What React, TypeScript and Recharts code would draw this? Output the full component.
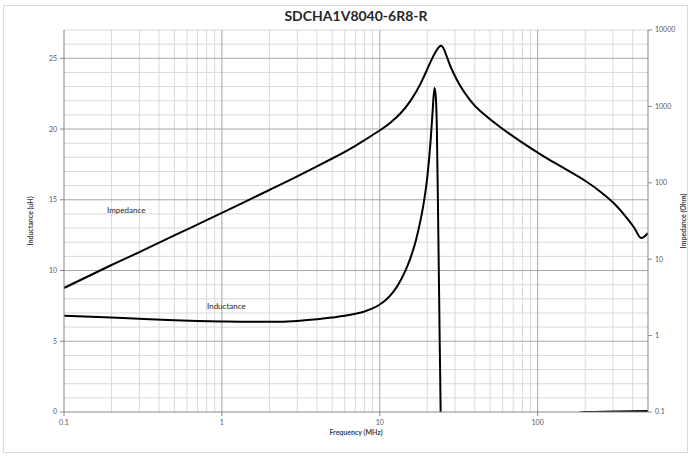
import React from "react";
import { LineChart, Line, XAxis, YAxis, ReferenceLine } from "recharts";

// axis ticks
const freqTicks = [0.1, 1, 10, 100];
const inductanceTicks = [0, 5, 10, 15, 20, 25];
const impedanceTicks = [0.1, 1, 10, 100, 1000, 10000];

// grid lines
const freqMinor = [0.2, 0.3, 0.4, 0.5, 0.6, 0.7, 0.8, 0.9, 2, 3, 4, 5, 6, 7, 8, 9, 20, 30, 40, 50, 60, 70, 80, 90, 200, 300, 400];
const freqMajor = [1, 10, 100];
const indMinor = [1, 2, 3, 4, 6, 7, 8, 9, 11, 12, 13, 14, 16, 17, 18, 19, 21, 22, 23, 24, 26, 27];
const indMajor = [5, 10, 15, 20, 25];

// impedance curve (Ohm)
const impFreq = [0.1, 0.2, 0.3, 0.5, 0.7, 1, 2, 3, 5, 7, 10.09, 11.67, 13.5, 15.6, 18.1, 20.9, 22.8, 24.3, 25.6, 27.3, 28.8, 32.3, 37.4, 43.3, 57.8, 77.4, 103.6, 138.6, 201, 259, 304, 357, 405, 423, 440, 455, 475, 500];
const impValues = [4.2, 8.4, 12.4, 20.5, 28.4, 40.4, 80.5, 121, 208, 305, 491, 611, 806, 1172, 1972, 3767, 5335, 6230, 5500, 3855, 2951, 1866, 1202, 871, 537, 352, 238, 166, 105.6, 72, 53.9, 37.3, 26.6, 22.8, 19.8, 18.9, 19.8, 22];

// inductance curve (uH)
const indFreq = [0.1, 0.2, 0.32, 0.5, 0.7, 1, 1.5, 2, 3, 4, 5, 6, 7, 8, 9, 10, 11, 12, 13, 14, 15, 16, 17, 18, 19, 20, 21, 21.6, 22.2, 22.6, 23.0, 23.5, 24.0, 24.3, 24.6, 26, 30, 50, 100, 150, 185, 200, 300, 400, 500];
const indValues = [6.8, 6.68, 6.57, 6.48, 6.43, 6.4, 6.38, 6.38, 6.44, 6.55, 6.68, 6.8, 6.94, 7.1, 7.32, 7.6, 7.95, 8.4, 8.95, 9.6, 10.35, 11.2, 12.2, 13.4, 14.8, 16.6, 19.2, 21.2, 22.9, 22.4, 20.0, 12.5, 4.5, 0, -8, -30, -20, -5, -1, -0.3, -0.05, 0, 0.03, 0.05, 0.08];

const impData = impFreq.map((f, i) => ({ f, z: impValues[i] }));
const indData = indFreq.map((f, i) => ({ f, l: indValues[i] }));

const font = "Lato, 'Open Sans', sans-serif";
const tickStyle = { fontSize: 7, fill: "#595959", fontFamily: font };
const axisColor = "#868686";

export default function App() {
  return (
    <div style={{ position: "absolute", left: 0, top: 0, width: 690, height: 456, background: "#fff", fontFamily: font }}>
      <div style={{ position: "absolute", left: 3, top: 5, width: 683, height: 446, border: "1px solid #d9d9d9" }} />
      <div style={{ position: "absolute", left: 0, top: 7, width: 712, textAlign: "center", fontSize: 14, fontWeight: 700, color: "#262626" }}>
        SDCHA1V8040-6R8-R
      </div>
      <LineChart width={690} height={456} margin={{ top: 30, right: 6, bottom: 24, left: 24 }} style={{ position: "absolute", left: 0, top: 0 }}>
        <XAxis
          dataKey="f"
          type="number"
          scale="log"
          domain={[0.1, 500]}
          ticks={freqTicks}
          allowDataOverflow
          height={20}
          stroke={axisColor}
          tick={tickStyle}
          tickSize={4}
          tickMargin={4}
          tickFormatter={(v) => String(v)}
        />
        <YAxis
          yAxisId="left"
          type="number"
          domain={[0, 27]}
          ticks={inductanceTicks}
          allowDataOverflow
          width={40}
          stroke={axisColor}
          tick={tickStyle}
          tickSize={4}
          tickMargin={3}
        />
        <YAxis
          yAxisId="right"
          orientation="right"
          type="number"
          scale="log"
          domain={[0.1, 10000]}
          ticks={impedanceTicks}
          allowDataOverflow
          width={36}
          stroke={axisColor}
          tick={tickStyle}
          tickSize={4}
          tickMargin={3}
          tickFormatter={(v) => String(v)}
        />
        {indMinor.map((v) => (
          <ReferenceLine key={`hm${v}`} yAxisId="left" y={v} stroke="#d9d9d9" strokeWidth={1} />
        ))}
        {freqMinor.map((v) => (
          <ReferenceLine key={`vm${v}`} yAxisId="left" x={v} stroke="#d9d9d9" strokeWidth={1} />
        ))}
        {indMajor.map((v) => (
          <ReferenceLine key={`hM${v}`} yAxisId="left" y={v} stroke="#a6a6a6" strokeWidth={1} />
        ))}
        {freqMajor.map((v) => (
          <ReferenceLine key={`vM${v}`} yAxisId="left" x={v} stroke="#a6a6a6" strokeWidth={1} />
        ))}
        <Line
          yAxisId="right"
          data={impData}
          dataKey="z"
          type="natural"
          stroke="#000"
          strokeWidth={2}
          dot={false}
          isAnimationActive={false}
        />
        <Line
          yAxisId="left"
          data={indData}
          dataKey="l"
          type="monotone"
          stroke="#000"
          strokeWidth={2}
          dot={false}
          isAnimationActive={false}
        />
      </LineChart>
      <div style={{ position: "absolute", left: 107, top: 205, fontSize: 8, color: "#262626" }}>Impedance</div>
      <div style={{ position: "absolute", left: 207, top: 301, fontSize: 8, color: "#262626" }}>Inductance</div>
      <div style={{ position: "absolute", left: 64, width: 584, top: 428, textAlign: "center", fontSize: 7, fontWeight: 700, color: "#404040" }}>
        Frequency (MHz)
      </div>
      <div style={{ position: "absolute", left: 30, top: 221, transform: "translate(-50%, -50%) rotate(-90deg)", whiteSpace: "nowrap", fontSize: 7, fontWeight: 700, color: "#404040" }}>
        Inductance (uH)
      </div>
      <div style={{ position: "absolute", left: 683, top: 221, transform: "translate(-50%, -50%) rotate(-90deg)", whiteSpace: "nowrap", fontSize: 7, fontWeight: 700, color: "#404040" }}>
        Impedance (Ohm)
      </div>
    </div>
  );
}
